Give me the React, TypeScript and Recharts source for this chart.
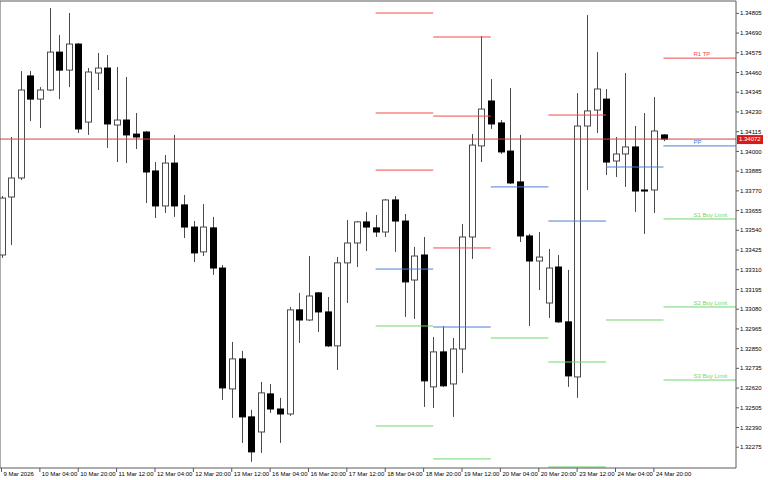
import React from 'react';
import { ComposedChart, Bar, XAxis, YAxis, ReferenceLine } from 'recharts';

const FONT = '"Liberation Sans", Arial, sans-serif';

// GBPUSD-style H4 bars, index 0 = 9 Mar 12:00, last = 25 Mar 00:00
const open = [
  1.33396, 1.33734, 1.33845, 1.3444, 1.34305, 1.34358, 1.34579, 1.34474, 1.34626, 1.34171,
  1.34457, 1.34486, 1.34154, 1.34183, 1.34101, 1.34113, 1.33886, 1.33682, 1.33932, 1.33688,
  1.33559, 1.33414, 1.33554, 1.3332, 1.32615, 1.3279, 1.32452, 1.32364, 1.32586, 1.32498,
  1.32469, 1.33076, 1.33017, 1.33175, 1.33064, 1.32866, 1.3335, 1.33466, 1.33589, 1.33554,
  1.3353, 1.33717, 1.33594, 1.3325, 1.33396, 1.32627, 1.32831, 1.32644, 1.32848, 1.33501,
  1.34032, 1.34294, 1.34166, 1.34002, 1.33822, 1.33507, 1.33361, 1.33116, 1.33326, 1.33006,
  1.32685, 1.34148, 1.34241, 1.34305, 1.33944, 1.33985, 1.34026, 1.33775, 1.33775, 1.34096,
];
const high = [
  1.3374, 1.34084, 1.34469, 1.34469, 1.34375, 1.34836, 1.34679, 1.34807, 1.34632, 1.34486,
  1.34574, 1.34562, 1.34492, 1.34434, 1.34224, 1.34119, 1.33938, 1.33979, 1.34096, 1.33746,
  1.33594, 1.33693, 1.33618, 1.33338, 1.32889, 1.32837, 1.32493, 1.32656, 1.32644, 1.32563,
  1.33093, 1.33175, 1.3339, 1.3318, 1.33151, 1.33384, 1.336, 1.33594, 1.33647, 1.33629,
  1.33723, 1.3374, 1.33635, 1.33443, 1.33501, 1.32918, 1.32982, 1.32912, 1.33577, 1.34101,
  1.34673, 1.34422, 1.34183, 1.3437, 1.34096, 1.33519, 1.3353, 1.33431, 1.33396, 1.33309,
  1.3434, 1.34795, 1.34579, 1.34364, 1.34084, 1.34457, 1.34148, 1.34224, 1.34317, 1.341,
];
const low = [
  1.33379, 1.33454, 1.33833, 1.34177, 1.34136, 1.34352, 1.34305, 1.34375, 1.34107, 1.34096,
  1.34358, 1.3402, 1.33938, 1.33932, 1.34014, 1.33699, 1.33612, 1.33641, 1.33618, 1.33495,
  1.33355, 1.3339, 1.3328, 1.32551, 1.32446, 1.323, 1.3219, 1.32242, 1.32475, 1.323,
  1.32458, 1.32883, 1.33011, 1.32947, 1.3286, 1.32726, 1.33116, 1.33326, 1.33419, 1.33501,
  1.33501, 1.33414, 1.33035, 1.33023, 1.3251, 1.32504, 1.32627, 1.32452, 1.32708, 1.33373,
  1.33938, 1.34131, 1.33985, 1.3381, 1.33472, 1.32982, 1.33192, 1.33029, 1.33, 1.32627,
  1.32563, 1.33775, 1.34107, 1.33862, 1.33851, 1.33793, 1.33647, 1.33519, 1.33641, 1.3406,
];
const close = [
  1.33728, 1.33845, 1.34358, 1.34305, 1.34358, 1.34579, 1.34474, 1.34626, 1.34131, 1.34463,
  1.34486, 1.3416, 1.34183, 1.34096, 1.34084, 1.3388, 1.33682, 1.33932, 1.33682, 1.33559,
  1.33408, 1.33559, 1.3332, 1.32621, 1.3279, 1.32452, 1.32248, 1.32592, 1.32498, 1.32469,
  1.33076, 1.33017, 1.33157, 1.33064, 1.32866, 1.3335, 1.33466, 1.33589, 1.33559, 1.3353,
  1.33717, 1.33594, 1.33239, 1.3339, 1.32662, 1.32831, 1.32633, 1.32848, 1.33501, 1.34037,
  1.34247, 1.3416, 1.33997, 1.33816, 1.33507, 1.33361, 1.33384, 1.3332, 1.33006, 1.32691,
  1.34148, 1.34236, 1.34364, 1.33938, 1.33985, 1.34026, 1.33769, 1.33769, 1.34119, 1.34072,
];

const timeTicks = [0, 4, 8, 12, 16, 20, 24, 28, 32, 36, 40, 44, 48, 52, 56, 60, 64, 68];
const timeLabels = [
  '9 Mar 2026', '10 Mar 04:00', '10 Mar 20:00', '11 Mar 12:00', '12 Mar 04:00', '12 Mar 20:00',
  '13 Mar 12:00', '16 Mar 04:00', '16 Mar 20:00', '17 Mar 12:00', '18 Mar 04:00', '18 Mar 20:00',
  '19 Mar 12:00', '20 Mar 04:00', '20 Mar 20:00', '23 Mar 12:00', '24 Mar 04:00', '24 Mar 20:00',
];

const priceTicks = [
  1.34805, 1.3469, 1.34575, 1.3446, 1.34345, 1.3423, 1.34115, 1.34, 1.33885, 1.3377, 1.33655,
  1.3354, 1.33425, 1.3331, 1.33195, 1.3308, 1.32965, 1.3285, 1.32735, 1.3262, 1.32505, 1.3239,
  1.32275,
];
const lastPrice = 1.34072;

// daily pivot levels (first bar index of each day)
const dayStart = [39, 45, 51, 57, 63, 69];
const r3 = [1.34807, 1.34667, null, null, null, null];
const r2 = [1.34224, 1.34206, null, null, null, null];
const r1 = [1.33891, 1.33437, null, 1.34212, null, 1.34544];
const pp = [1.33314, 1.32976, 1.33793, 1.33594, 1.33909, 1.34032];
const s1 = [1.32982, 1.32207, 1.32912, 1.32772, 1.33017, 1.33606];
const s2 = [1.32399, null, null, 1.3216, null, 1.33093];
const s3 = [null, null, null, null, null, 1.32667];

const X_MIN = -0.156;
const X_MAX = 76.56;
const Y_MIN = 1.32154;
const Y_MAX = 1.34877;

const RED = '#f24b4b';
const BLUE = '#4f7fd6';
const GREEN = '#6fd66f';
const FRAME = '#5a5a5a';

const levels = [
  { key: 'R3', color: RED, values: r3, text: '' },
  { key: 'R2', color: RED, values: r2, text: '' },
  { key: 'R1', color: RED, values: r1, text: 'R1 TP' },
  { key: 'PP', color: BLUE, values: pp, text: 'PP' },
  { key: 'S1', color: GREEN, values: s1, text: 'S1 Buy Limit' },
  { key: 'S2', color: GREEN, values: s2, text: 'S2 Buy Limit' },
  { key: 'S3', color: GREEN, values: s3, text: 'S3 Buy Limit' },
];

const rows = open.map((o, i) => ({
  i,
  o,
  h: high[i],
  l: low[i],
  c: close[i],
  range: [low[i], high[i]],
}));

function Candle(props: any) {
  const { x, width, payload } = props;
  let { y, height } = props;
  if (height < 0) {
    y = y + height;
    height = -height;
  }
  const { o, h, l, c } = payload;
  const cx = Math.round(x + width / 2) + 0.5;
  const k = h - l > 0 ? height / (h - l) : 0;
  const yO = y + (h - o) * k;
  const yC = y + (h - c) * k;
  const up = c >= o;
  const top = Math.min(yO, yC);
  const bh = Math.max(Math.abs(yO - yC), 1);
  return (
    <g>
      <line x1={cx} x2={cx} y1={y} y2={y + height} stroke="#4a4a4a" strokeWidth={1} />
      <rect
        x={cx - 3}
        y={top}
        width={6}
        height={bh}
        fill={up ? '#ffffff' : '#000000'}
        stroke={up ? '#4a4a4a' : '#000000'}
        strokeWidth={1}
      />
    </g>
  );
}

function TimeTick({ x, y, payload }: any) {
  const idx = timeTicks.indexOf(payload.value);
  return (
    <text x={x + 2} y={y + 4} fontSize={6} fontFamily={FONT} fill="#000" textAnchor="start">
      {timeLabels[idx]}
    </text>
  );
}

function PriceTick({ x, y, payload }: any) {
  return (
    <text x={x} y={y + 2.1} fontSize={6} fontFamily={FONT} fill="#000" textAnchor="start">
      {payload.value.toFixed(5)}
    </text>
  );
}

function PriceTag({ viewBox }: any) {
  const left = viewBox.x + viewBox.width + 1;
  return (
    <g>
      <rect x={left} y={viewBox.y - 4} width={26} height={9} fill="#d81a1a" />
      <text x={left + 2} y={viewBox.y + 2.3} fontSize={6} fontFamily={FONT} fill="#ffffff">
        {lastPrice.toFixed(5)}
      </text>
    </g>
  );
}

function PivotLabel({ viewBox, text, color }: any) {
  return (
    <text x={viewBox.x + 30} y={viewBox.y - 2} fontSize={6} fontFamily={FONT} fill={color}>
      {text}
    </text>
  );
}

export default function App() {
  const segments: React.ReactNode[] = [];
  levels.forEach((lv) => {
    lv.values.forEach((v, d) => {
      if (v == null) return;
      const last = d === dayStart.length - 1;
      const x2 = last ? X_MAX : dayStart[d + 1];
      segments.push(
        <ReferenceLine
          key={`${lv.key}-${d}`}
          segment={[
            { x: dayStart[d], y: v },
            { x: x2, y: v },
          ]}
          stroke={lv.color}
          strokeWidth={1}
          label={last && lv.text ? <PivotLabel text={lv.text} color={lv.color} /> : undefined}
        />
      );
    });
  });

  return (
    <div style={{ position: 'absolute', left: 0, top: 0, width: 768, height: 480, background: '#fff' }}>
      <ComposedChart
        width={768}
        height={480}
        data={rows}
        margin={{ top: 1, right: 0, left: 0, bottom: 0 }}
      >
        <XAxis
          dataKey="i"
          type="number"
          domain={[X_MIN, X_MAX]}
          allowDataOverflow
          ticks={timeTicks}
          interval={0}
          height={12}
          tickSize={4}
          tickMargin={0}
          stroke={FRAME}
          tick={<TimeTick />}
        />
        <YAxis
          orientation="right"
          type="number"
          domain={[Y_MIN, Y_MAX]}
          allowDataOverflow
          ticks={priceTicks}
          interval={0}
          width={32}
          tickSize={3}
          tickMargin={1}
          stroke={FRAME}
          tick={<PriceTick />}
        />
        <ReferenceLine y={Y_MAX} stroke={FRAME} />
        <ReferenceLine x={X_MIN} stroke={FRAME} />
        {segments}
        <ReferenceLine y={lastPrice} stroke="#c84646" label={<PriceTag />} />
        <Bar dataKey="range" barSize={6} shape={<Candle />} isAnimationActive={false} />
      </ComposedChart>
    </div>
  );
}
